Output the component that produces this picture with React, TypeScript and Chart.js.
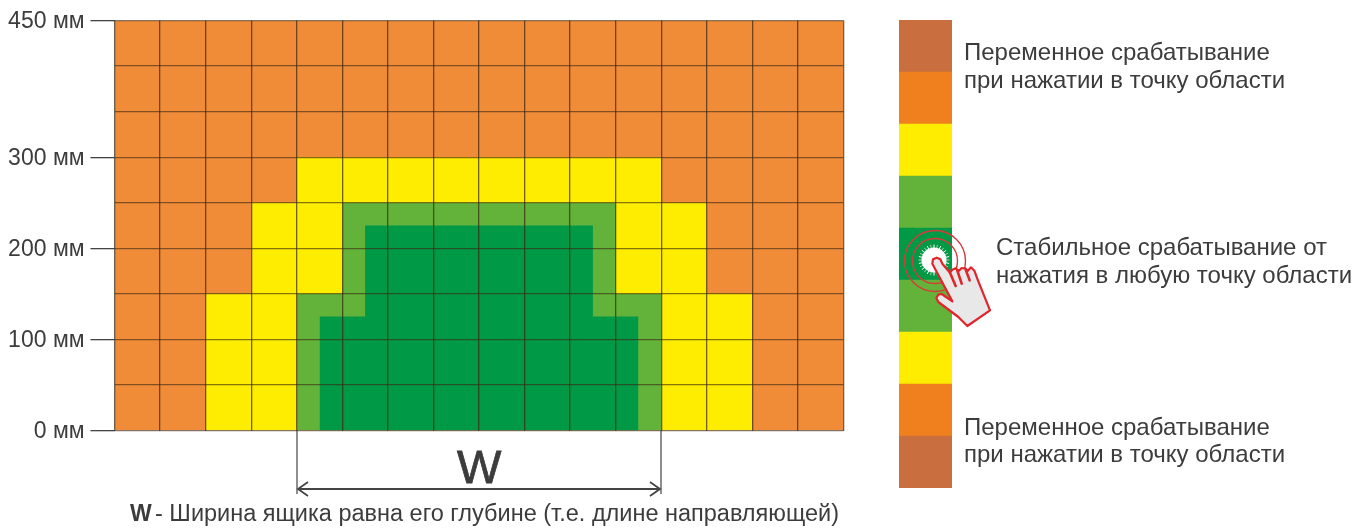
import React, { useEffect, useRef } from "react";
import { Chart, registerables } from "chart.js";

Chart.register(...registerables);

const columnEdges = [0, 16];
const rowTicks = [0, 50, 100, 150, 200, 250, 300, 350, 400, 450];
const labelledTicks = [0, 100, 200, 300, 450];

const orangeZone = [{ x: 0, y: 450 }, { x: 16, y: 450 }];
const yellowZone = [{ x: 2, y: 150 }, { x: 3, y: 250 }, { x: 4, y: 300 }, { x: 12, y: 250 }, { x: 13, y: 150 }, { x: 14, y: 150 }];
const lightGreenZone = [{ x: 4, y: 150 }, { x: 5, y: 250 }, { x: 11, y: 150 }, { x: 12, y: 150 }];
const darkGreenZone = [{ x: 4.5, y: 125 }, { x: 5.5, y: 225 }, { x: 10.5, y: 125 }, { x: 11.5, y: 125 }];

const stripColors = ["#c96f3f", "#f0801d", "#ffed00", "#63b33a", "#009a47", "#63b33a", "#ffed00", "#f0801d", "#c96f3f"];
const stripValues = [1, 1, 1, 1, 1, 1, 1, 1, 1];

const FONT = '"Liberation Sans", Arial, sans-serif';
const TEXT = "#3c3c3c";

function drawHand(ctx: CanvasRenderingContext2D) {
  const cx = 935, cy = 261;
  const X = (z: number) => 895 + z / 3;
  const Y = (z: number) => 222 + z / 3;
  ctx.save();
  ctx.strokeStyle = "#d8393a";
  ctx.lineWidth = 1.4;
  for (const r of [30.5, 22.5]) {
    ctx.beginPath();
    ctx.arc(cx, cy, r, 0, Math.PI * 2);
    ctx.stroke();
  }
  ctx.lineWidth = 1;
  for (let i = 0; i < 28; i++) {
    const a = (i / 28) * Math.PI * 2;
    ctx.strokeStyle = i % 2 ? "#ffffff" : "#b9c9a8";
    ctx.beginPath();
    ctx.moveTo(cx - 1 + Math.cos(a) * 11, cy - 1 + Math.sin(a) * 11);
    ctx.lineTo(cx - 1 + Math.cos(a) * 15.5, cy - 1 + Math.sin(a) * 15.5);
    ctx.stroke();
  }
  ctx.fillStyle = "#fff";
  ctx.beginPath();
  ctx.arc(cx - 1, cy - 1, 12.5, 0, Math.PI * 2);
  ctx.fill();

  const hand: [number, number][] = [
    [112, 125], [114, 112], [125, 107], [136, 112], [142, 125], [165, 152], [172, 143], [182, 139], [192, 146],
    [200, 138], [212, 140], [218, 147], [228, 136], [238, 146], [250, 178], [285, 265], [217, 312], [190, 285],
    [130, 240], [124, 228], [130, 218], [140, 216], [172, 238],
  ];
  ctx.beginPath();
  hand.forEach(([x, y], i) => (i ? ctx.lineTo(X(x), Y(y)) : ctx.moveTo(X(x), Y(y))));
  ctx.closePath();
  ctx.fillStyle = "#e8e8e8";
  ctx.fill();
  ctx.strokeStyle = "#e2242b";
  ctx.lineWidth = 2.2;
  ctx.lineJoin = "round";
  ctx.stroke();
  ctx.lineWidth = 2.6;
  ctx.lineCap = "round";
  for (const [x0, y0, x1, y1] of [[165, 152, 182, 192], [187, 146, 200, 185], [212, 143, 224, 175]]) {
    ctx.beginPath();
    ctx.moveTo(X(x0), Y(y0));
    ctx.lineTo(X(x1), Y(y1));
    ctx.stroke();
  }
  ctx.restore();
}

const annotations = {
  id: "annotations",
  afterDraw(chart: any) {
    const { ctx, scales } = chart;
    const left = Math.round(scales.x.getPixelForValue(4));
    const right = Math.round(scales.x.getPixelForValue(12));
    const base = scales.y.getPixelForValue(0);
    ctx.save();
    ctx.strokeStyle = "#444";
    ctx.lineWidth = 1.2;
    ctx.beginPath();
    ctx.moveTo(left, base);
    ctx.lineTo(left, 494);
    ctx.moveTo(right, base);
    ctx.lineTo(right, 494);
    ctx.stroke();
    ctx.lineWidth = 1.8;
    ctx.beginPath();
    ctx.moveTo(left + 1, 489);
    ctx.lineTo(right - 1, 489);
    ctx.moveTo(left + 11, 482);
    ctx.lineTo(left + 1, 489);
    ctx.lineTo(left + 11, 496);
    ctx.moveTo(right - 11, 482);
    ctx.lineTo(right - 1, 489);
    ctx.lineTo(right - 11, 496);
    ctx.stroke();

    ctx.fillStyle = TEXT;
    ctx.textBaseline = "alphabetic";
    ctx.textAlign = "left";
    ctx.font = `47px ${FONT}`;
    ctx.lineWidth = 0.8;
    ctx.strokeStyle = TEXT;
    ctx.fillText("W", 457, 483);
    ctx.strokeText("W", 457, 483);
    ctx.font = `bold 23px ${FONT}`;
    ctx.fillText("W", 130, 521);
    ctx.font = `23.5px ${FONT}`;
    ctx.fillText("- Ширина ящика равна его глубине (т.е. длине направляющей)", 155, 521);
    ctx.font = `24px ${FONT}`;
    ctx.fillText("Переменное срабатывание", 964, 60);
    ctx.fillText("при нажатии в точку области", 964, 88);
    ctx.fillText("Стабильное срабатывание от", 996, 255);
    ctx.fillText("нажатия в любую точку области", 996, 283);
    ctx.fillText("Переменное срабатывание", 964, 435);
    ctx.fillText("при нажатии в точку области", 964, 462);
    ctx.restore();
    drawHand(ctx);
  },
};

const zone = (label: string, data: { x: number; y: number }[], color: string) => ({
  label,
  data,
  stepped: true as const,
  fill: "origin",
  backgroundColor: color,
  borderWidth: 0,
  pointRadius: 0,
});

export default function App() {
  const mainRef = useRef<HTMLCanvasElement>(null);
  const stripRef = useRef<HTMLCanvasElement>(null);

  useEffect(() => {
    const main = new Chart(mainRef.current!, {
      type: "line",
      data: {
        datasets: [
          zone("Стабильное", darkGreenZone, "#009a47"),
          zone("Зелёная", lightGreenZone, "#63b33a"),
          zone("Жёлтая", yellowZone, "#ffed00"),
          zone("Оранжевая", orangeZone, "#f08c38"),
        ],
      },
      plugins: [annotations],
      options: {
        animation: false,
        responsive: false,
        events: [],
        layout: { padding: { top: 20.5, right: 524.5, bottom: 97.5, left: 0 } },
        plugins: { legend: { display: false }, tooltip: { enabled: false } },
        scales: {
          x: {
            type: "linear",
            min: columnEdges[0],
            max: columnEdges[1],
            afterFit: (s: any) => { s.height = 0; },
            ticks: { stepSize: 1, display: false },
            grid: { z: 1, color: "rgba(60,40,20,0.72)", lineWidth: 1.3, drawTicks: false },
            border: { display: false },
          },
          y: {
            type: "linear",
            min: 0,
            max: 450,
            afterFit: (s: any) => { s.width = 114.5; },
            afterBuildTicks: (s: any) => { s.ticks = rowTicks.map((value) => ({ value })); },
            ticks: {
              autoSkip: false,
              padding: 6,
              labelOffset: 1,
              color: TEXT,
              font: { family: FONT, size: 23 },
              callback: (v: any) => (labelledTicks.includes(Number(v)) ? `${v} мм` : ""),
            },
            grid: {
              z: 1,
              color: "rgba(60,40,20,0.62)",
              lineWidth: 1.3,
              tickLength: 24,
              tickColor: (c: any) => (labelledTicks.includes(c.tick?.value) ? "#444" : "rgba(0,0,0,0)"),
            },
            border: { display: false },
          },
        },
      },
    });

    const strip = new Chart(stripRef.current!, {
      type: "bar",
      data: {
        labels: [""],
        datasets: stripValues.map((v, i) => ({
          data: [v],
          backgroundColor: stripColors[i],
          borderWidth: 0,
          barPercentage: 1,
          categoryPercentage: 1,
        })),
      },
      options: {
        animation: false,
        responsive: false,
        events: [],
        plugins: { legend: { display: false }, tooltip: { enabled: false } },
        scales: {
          x: { display: false, stacked: true },
          y: { display: false, stacked: true, min: 0, max: stripValues.length },
        },
      },
    });

    return () => {
      main.destroy();
      strip.destroy();
    };
  }, []);

  return (
    <div style={{ position: "fixed", left: 0, top: 0, width: 1368, height: 528, background: "#fff", overflow: "hidden" }}>
      <canvas ref={stripRef} width={53} height={468} style={{ position: "absolute", left: 899, top: 20, width: 53, height: 468 }} />
      <canvas ref={mainRef} width={1368} height={528} style={{ position: "absolute", left: 0, top: 0, width: 1368, height: 528 }} />
    </div>
  );
}
